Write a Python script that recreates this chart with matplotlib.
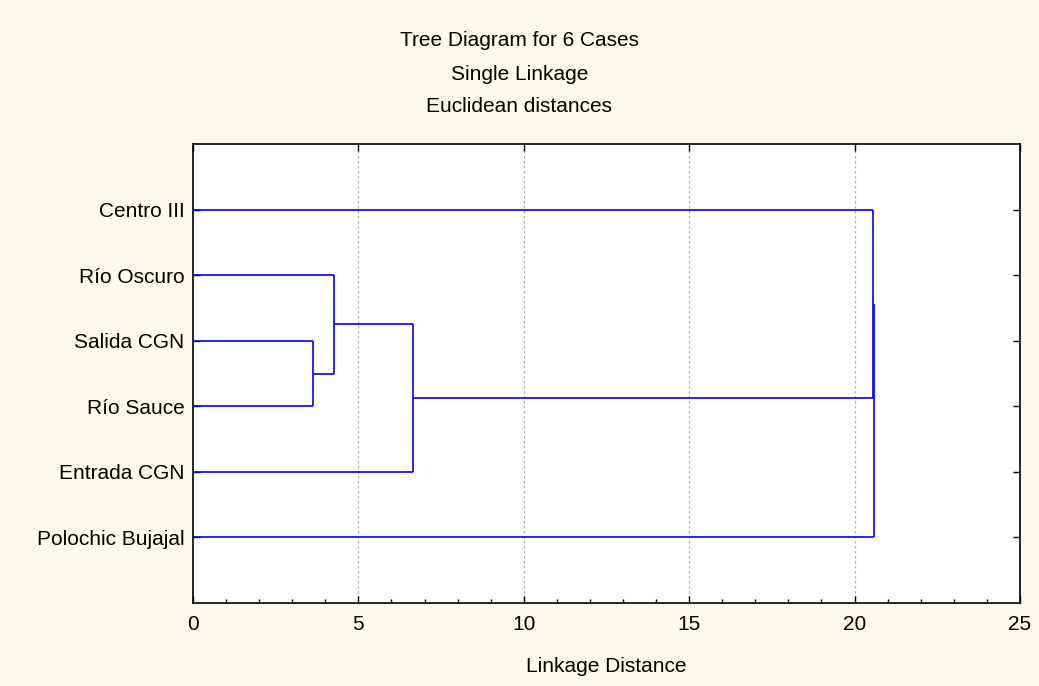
import matplotlib
matplotlib.use("Agg")
import matplotlib.pyplot as plt
from matplotlib.ticker import MultipleLocator

# Data: leaves in display order (top to bottom) and the single-linkage merges
cases = ["Centro III", "Río Oscuro", "Salida CGN", "Río Sauce", "Entrada CGN", "Polochic Bujajal"]
# each merge: (left child, right child, linkage distance); ints are leaf indices,
# strings "cN" refer to the N-th merge result
merge_a = [2, 1, 'c1', 0, 'c3']
merge_b = [3, 'c0', 4, 'c2', 5]
merge_dist = [3.63, 4.26, 6.65, 20.56, 20.60]

BG = "#fdf9ee"
LINE = "#0000ff"

plt.rcParams['font.family'] = ['Liberation Sans', 'DejaVu Sans']

fig = plt.figure(figsize=(10.39, 6.86), dpi=100, facecolor=BG)
ax = fig.add_axes([0.1857, 0.121, 0.7960, 0.669])
ax.set_facecolor("white")

def node_pos(ref, nodes):
    if isinstance(ref, int):
        return 0.0, ref + 1
    return nodes[int(ref[1:])]

nodes = []
for a, b, d in zip(merge_a, merge_b, merge_dist):
    xa, ya = node_pos(a, nodes)
    xb, yb = node_pos(b, nodes)
    ax.plot([xa, d], [ya, ya], color=LINE, lw=1.2, solid_capstyle='butt')
    ax.plot([xb, d], [yb, yb], color=LINE, lw=1.2, solid_capstyle='butt')
    ax.plot([d, d], [ya, yb], color=LINE, lw=1.2, solid_capstyle='butt')
    nodes.append((d, (ya + yb) / 2))

ax.set_xlim(0, 25)
ax.set_ylim(len(cases) + 1, 0)
ax.xaxis.set_major_locator(MultipleLocator(5))
ax.xaxis.set_minor_locator(MultipleLocator(1))
ax.set_yticks(range(1, len(cases) + 1))
ax.set_yticklabels(cases)

ax.tick_params(axis='x', which='major', direction='in', length=5, width=1,
               top=True, labelsize=15, pad=9)
ax.tick_params(axis='x', which='minor', direction='in', length=3, width=1,
               top=False)
ax.tick_params(axis='y', direction='in', length=5, width=1, right=True,
               labelsize=15, pad=6)
for s in ax.spines.values():
    s.set_linewidth(1.2)

for g in [5, 10, 15, 20]:
    ax.axvline(g, color="#b0b0b0", lw=0.9, ls=(0, (2, 2)), zorder=0)

ax.set_xlabel("Linkage Distance", fontsize=15, labelpad=16)

fig.text(0.5, 1 - 41 / 686, "Tree Diagram for 6 Cases", ha='center', va='center', fontsize=15)
fig.text(0.5, 1 - 74 / 686, "Single Linkage", ha='center', va='center', fontsize=15)
fig.text(0.5, 1 - 107 / 686, "Euclidean distances", ha='center', va='center', fontsize=15)

fig.savefig("out.png", dpi=100, facecolor=BG)
